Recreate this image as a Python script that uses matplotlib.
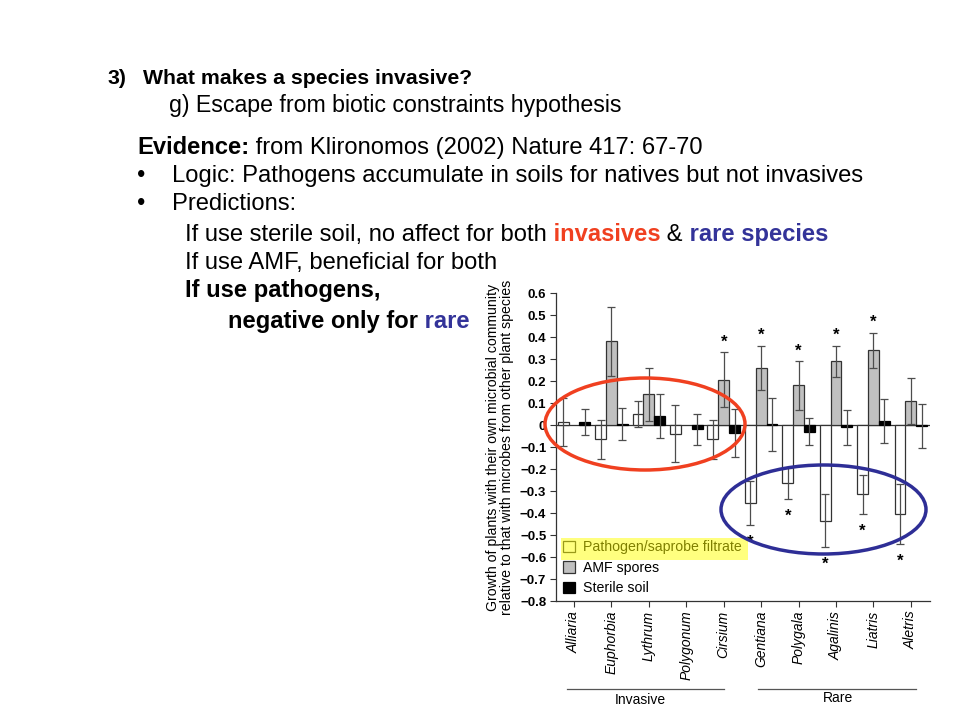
import numpy as np
import matplotlib.pyplot as plt
from matplotlib.patches import Ellipse, Rectangle
from matplotlib.lines import Line2D

plt.rcParams['font.family'] = ['Liberation Sans', 'DejaVu Sans']

# Werte
arten = ["Alliaria", "Euphorbia", "Lythrum", "Polygonum", "Cirsium",
         "Gentiana", "Polygala", "Agalinis", "Liatris", "Aletris"]
pathogen = [0.015, -0.065, 0.05, -0.04, -0.065, -0.355, -0.265, -0.435, -0.315, -0.405]
pathogen_err = [0.11, 0.09, 0.06, 0.13, 0.09, 0.10, 0.07, 0.12, 0.09, 0.135]
amf = [np.nan, 0.38, 0.14, np.nan, 0.205, 0.26, 0.18, 0.29, 0.34, 0.11]
amf_err = [0.0, 0.155, 0.12, 0.0, 0.125, 0.10, 0.11, 0.07, 0.08, 0.105]
steril = [0.015, 0.005, 0.04, -0.02, -0.035, 0.003, -0.03, -0.01, 0.018, -0.005]
steril_err = [0.06, 0.072, 0.10, 0.07, 0.11, 0.12, 0.063, 0.08, 0.10, 0.10]
amf_stern = [1, 4, 5, 6, 7, 8]
pathogen_stern = [5, 6, 7, 8, 9]
y_ticks = [0.6, 0.5, 0.4, 0.3, 0.2, 0.1, 0.0, -0.1, -0.2, -0.3, -0.4, -0.5, -0.6, -0.7, -0.8]
y_labels = ["0.6", "0.5", "0.4", "0.3", "0.2", "0.1", "0", "\u22120.1", "\u22120.2", "\u22120.3",
            "\u22120.4", "\u22120.5", "\u22120.6", "\u22120.7", "\u22120.8"]

ROT = '#f04020'
BLAU = '#333399'

fig = plt.figure(figsize=(9.6, 7.2), dpi=100)


def fx(px):
    return px / 960


def fy(py):
    return 1 - py / 720


renderer = fig.canvas.get_renderer()


def zeile(x, y, teile, size=17.1):
    for text, farbe, gewicht in teile:
        t = fig.text(fx(x), fy(y), text, color=farbe, fontweight=gewicht,
                     fontsize=size, va='baseline', ha='left')
        x += t.get_window_extent(renderer).width


zeile(107, 84, [("3)", 'black', 'bold')], size=15.3)
zeile(143, 84, [("What makes a species invasive?", 'black', 'bold')], size=15.3)
zeile(169, 112, [("g) Escape from biotic constraints hypothesis", 'black', 'normal')], size=16.7)
zeile(137, 154, [("Evidence:", 'black', 'bold'),
                 (" from Klironomos (2002) Nature 417: 67-70", 'black', 'normal')])
zeile(137, 182, [("\u2022", 'black', 'normal')])
zeile(172, 182, [("Logic: Pathogens accumulate in soils for natives but not invasives", 'black', 'normal')])
zeile(137, 210, [("\u2022", 'black', 'normal')])
zeile(172, 210, [("Predictions:", 'black', 'normal')])
zeile(185, 241, [("If use sterile soil, no affect for both", 'black', 'normal'),
                 (" invasives", ROT, 'bold'),
                 (" &", 'black', 'normal'),
                 (" rare species", BLAU, 'bold')])
zeile(185, 269, [("If use AMF, beneficial for both", 'black', 'normal')])
zeile(185, 297, [("If use pathogens,", 'black', 'bold')])
zeile(228, 328, [("negative only for", 'black', 'bold'), (" rare", BLAU, 'bold')])

# Diagramm
ax = fig.add_axes([fx(556), fy(601), fx(930) - fx(556), fy(293) - fy(601)])
x = np.arange(len(arten))
b = 0.29
ek = dict(ecolor='#4d4d4d', elinewidth=0.9, capsize=3, capthick=0.9, zorder=3)
r1 = ax.bar(x - b, pathogen, b, yerr=pathogen_err, color='white', edgecolor='#333333',
            linewidth=0.9, error_kw=ek, zorder=2, label='Pathogen/saprobe filtrate')
r2 = ax.bar(x, amf, b, yerr=amf_err, color='#c0c0c0', edgecolor='#333333',
            linewidth=0.9, error_kw=ek, zorder=2, label='AMF spores')
r3 = ax.bar(x + b, steril, b, yerr=steril_err, color='black', edgecolor='black',
            linewidth=0.9, error_kw=ek, zorder=2, label='Sterile soil')
ax.axhline(0, color='#333333', lw=0.9, zorder=1.5)

for i in amf_stern:
    ax.annotate('*', xy=(x[i], amf[i] + amf_err[i] + 0.07), xytext=(0, -7),
                textcoords='offset points', ha='center', va='baseline',
                fontsize=12, fontweight='bold')
for i in pathogen_stern:
    ax.annotate('*', xy=(x[i] - b, pathogen[i] - pathogen_err[i] - 0.055), xytext=(0, -7),
                textcoords='offset points', ha='center', va='baseline',
                fontsize=12, fontweight='bold')

ax.set_xlim(-0.48, 9.51)
ax.set_ylim(-0.8, 0.6)
ax.set_yticks(y_ticks)
ax.set_yticklabels(y_labels, fontsize=9.5, fontweight='bold')
ax.set_xticks(x)
ax.set_xticklabels(arten, rotation=90, fontsize=10, style='italic')
ax.tick_params(axis='both', length=4, width=0.8, color='#333333', pad=3)
for s in ['top', 'right']:
    ax.spines[s].set_visible(False)
for s in ['left', 'bottom']:
    ax.spines[s].set_color('#333333')
    ax.spines[s].set_linewidth(0.9)

ax.set_ylabel("Growth of plants with their own microbial community\n"
              "relative to that with microbes from other plant species",
              fontsize=10.2, linespacing=1.0)
ax.yaxis.set_label_coords(-0.112, 0.5)

ax.legend(handles=[r1, r2, r3], loc='upper left', bbox_to_anchor=(fx(562), fy(539)),
          bbox_transform=fig.transFigure, frameon=False, fontsize=10.2,
          handlelength=0.85, handleheight=0.85, handletextpad=0.55, labelspacing=0.45,
          borderaxespad=0, borderpad=0.1)

# gelbe Markierung
fig.patches.append(Rectangle((fx(561), fy(560)), fx(748) - fx(561), fy(538) - fy(560),
                             transform=fig.transFigure, facecolor='yellow', alpha=0.5,
                             edgecolor='none', zorder=5))

# Gruppen
fig.add_artist(Line2D([fx(567), fx(724)], [fy(689), fy(689)], color='#555555', lw=0.9))
fig.add_artist(Line2D([fx(758), fx(916)], [fy(689), fy(689)], color='#555555', lw=0.9))
fig.text(fx(640), fy(700), "Invasive", ha='center', va='center', fontsize=10)
fig.text(fx(838), fy(698), "Rare", ha='center', va='center', fontsize=10)

# Ellipsen
fig.patches.append(Ellipse((fx(645), fy(424)), fx(200), 92 / 720, transform=fig.transFigure,
                           fill=False, edgecolor=ROT, lw=2.5, zorder=6))
fig.patches.append(Ellipse((fx(823.5), fy(509.5)), fx(205), 89 / 720, transform=fig.transFigure,
                           fill=False, edgecolor='#2e2e96', lw=2.5, zorder=6))

fig.savefig('out.png', dpi=100)
